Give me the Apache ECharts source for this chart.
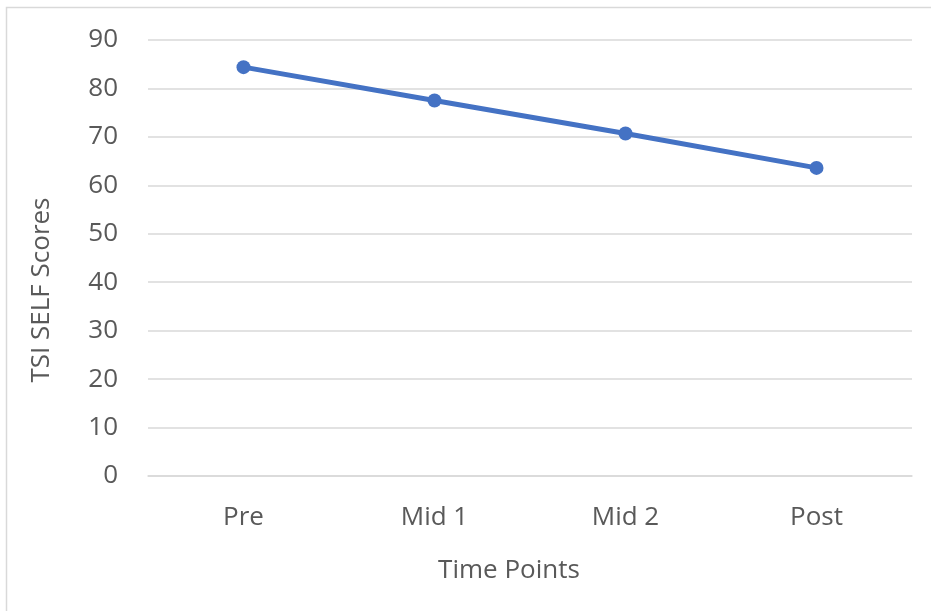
<!DOCTYPE html>
<html>
<head>
<meta charset="utf-8">
<style>
  html, body { margin: 0; padding: 0; background: #fff; }
  #chart { width: 931px; height: 611px; }
</style>
<script src="https://cdn.jsdelivr.net/npm/echarts@6/dist/echarts.min.js"></script>
</head>
<body>
<div id="chart"></div>
<script>
// Mean TSI SELF scores at each measurement point
const timePoints = ['Pre', 'Mid 1', 'Mid 2', 'Post'];
const selfScores = [84.4, 77.5, 70.7, 63.6];
const yTicks = { min: 0, max: 90, interval: 10 };

const FONT = '"Open Sans", "Noto Sans", sans-serif';
const TEXT = '#595959';
const SIZE = 26;

const chart = echarts.init(document.getElementById('chart'), null, { renderer: 'canvas' });
chart.setOption({
  backgroundColor: '#fff',
  animation: false,
  graphic: [
    {
      type: 'rect',
      shape: { x: 6.5, y: 7.5, width: 940, height: 620 },
      style: { fill: 'none', stroke: '#d9d9d9', lineWidth: 1.5 },
      silent: true
    },
    {
      type: 'text',
      x: 42, y: 290,
      rotation: Math.PI / 2,
      style: {
        text: 'TSI SELF Scores',
        fill: TEXT,
        font: SIZE + 'px ' + FONT,
        align: 'center',
        verticalAlign: 'middle'
      }
    },
    {
      type: 'text',
      x: 509, y: 571,
      style: {
        text: 'Time Points',
        fill: TEXT,
        font: SIZE + 'px ' + FONT,
        align: 'center',
        verticalAlign: 'middle'
      }
    }
  ],
  grid: { left: 148, right: 19, top: 40, bottom: 135 },
  xAxis: {
    type: 'category',
    data: timePoints,
    boundaryGap: true,
    axisLine: { show: true, lineStyle: { color: '#d9d9d9', width: 1.5 } },
    axisTick: { show: false },
    axisLabel: { color: TEXT, fontSize: SIZE, fontFamily: FONT, margin: 29 },
    splitLine: { show: false }
  },
  yAxis: {
    type: 'value',
    min: yTicks.min,
    max: yTicks.max,
    interval: yTicks.interval,
    axisLine: { show: false },
    axisTick: { show: false },
    axisLabel: { color: TEXT, fontSize: SIZE, fontFamily: FONT, margin: 30 },
    splitLine: { show: true, lineStyle: { color: '#d9d9d9', width: 1.5 } }
  },
  series: [{
    type: 'line',
    data: selfScores,
    symbol: 'circle',
    symbolSize: 14,
    lineStyle: { color: '#4472C4', width: 5 },
    itemStyle: { color: '#4472C4' }
  }]
});
</script>
</body>
</html>
